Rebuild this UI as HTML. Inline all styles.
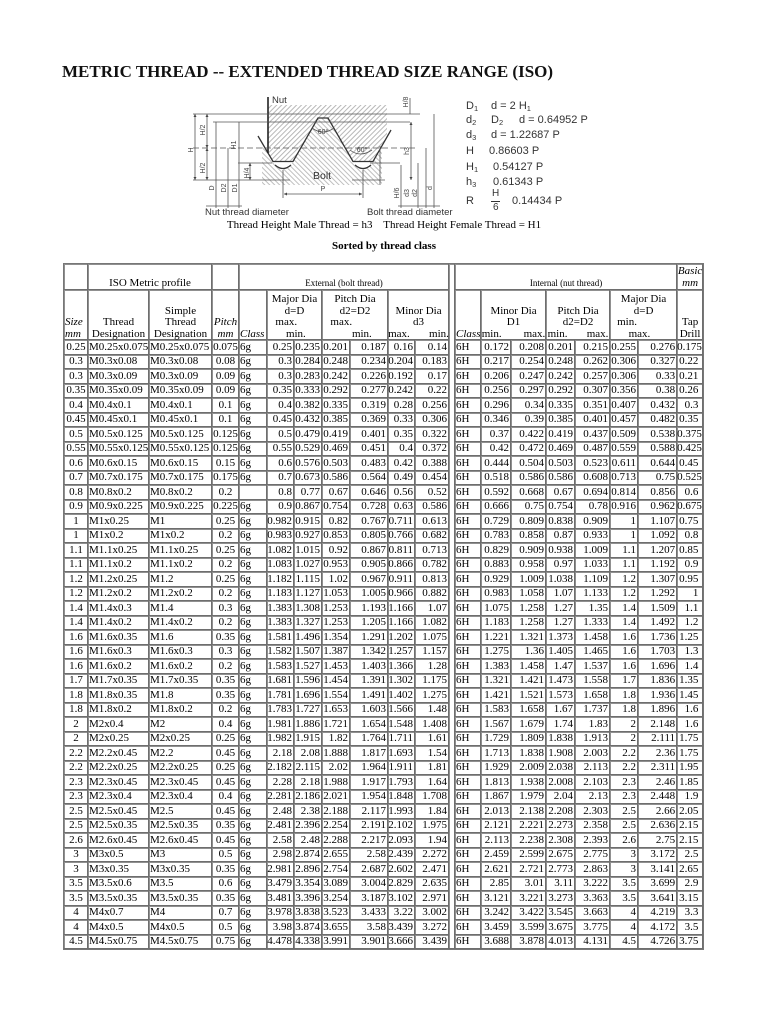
<!DOCTYPE html>
<html><head><meta charset="utf-8">
<style>
html,body{margin:0;padding:0;background:#fff}
body{width:768px;height:1024px;position:relative;overflow:hidden;font-family:"Liberation Serif",serif;color:#000}
.title{position:absolute;left:62px;top:62px;font-size:17px;font-weight:bold;line-height:20px;white-space:nowrap;color:#111}
.cap{position:absolute;left:0;width:768px;top:218px;text-align:center;font-size:11px;line-height:14px;white-space:pre}
.sorted{position:absolute;left:0;width:768px;top:239px;text-align:center;font-size:11px;font-weight:bold;line-height:14px}
.f{position:absolute;font-family:"Liberation Sans",sans-serif;font-size:11px;line-height:14px;color:#333;white-space:pre}
.f sub{font-size:7.5px;vertical-align:-2px;line-height:0}
.wrap{position:absolute;left:63px;top:263px;border:1px solid #777}
table{border-collapse:separate;border-spacing:0;table-layout:fixed;width:639px}
td{padding:0;font-size:11px;line-height:13px;white-space:nowrap;box-shadow:inset -1px -1px 0 #6e6e6e,inset 1px 1px 0 #909090;text-align:right;vertical-align:middle}
tr.h1{height:26px}
tr.h1 td{vertical-align:bottom;text-align:center;line-height:13px}
tr.h1 td.basic{vertical-align:middle;line-height:12px}
.sm{font-size:9px}
tr.h2{height:50px}
tr.h2 td{vertical-align:bottom;text-align:center;line-height:11.5px}
tr.h2 td.lft{text-align:left;padding-left:1px}
tr:nth-child(n+3){height:14.5px}
tr:nth-child(n+3) td:nth-child(1),tr:nth-child(n+3) td:nth-child(4){text-align:center}
tr:nth-child(n+3) td:nth-child(2),tr:nth-child(n+3) td:nth-child(3),tr:nth-child(n+3) td:nth-child(5),tr:nth-child(n+3) td:nth-child(12){text-align:left;text-indent:1px}
tr:nth-child(n+3) td:nth-child(n+6):not(:nth-child(12))::after{content:"";display:inline-block;width:2px}
</style></head><body>

<div class="title">METRIC THREAD -- EXTENDED THREAD SIZE RANGE (ISO)</div>

<svg width="768" height="230" style="position:absolute;left:0;top:0" font-family="Liberation Sans, sans-serif">
<defs>
<pattern id="pa" width="3.5" height="3.5" patternUnits="userSpaceOnUse" patternTransform="rotate(45)"><rect width="0.9" height="3.5" fill="#b0b0b0"/></pattern>
<pattern id="pb" width="3.5" height="3.5" patternUnits="userSpaceOnUse" patternTransform="rotate(-45)"><rect width="0.9" height="3.5" fill="#b8b8b8"/></pattern>
<marker id="ar" viewBox="0 0 6 6" refX="6" refY="3" markerWidth="4" markerHeight="4" orient="auto-start-reverse"><path d="M0,0 L6,3 L0,6z" fill="#444"/></marker>
</defs>
<polygon fill="url(#pa)" points="268,105 387,105 387,137 373,161.5 353,161.5 328,118 318,118 293,161.5 273,161.5 268,152.8"/>
<path fill="url(#pb)" d="M262,185 L262,142.4 L275,165 Q283,172 291,165 L318,118 L328,118 L355,165 Q363,172 371,165 L382,146 L382,185Z"/>
<path d="M258,136 L273,161.5 L293,161.5 L318,118 L328,118 L353,161.5 L373,161.5 L391,130" fill="none" stroke="#333" stroke-width="1.3"/>
<path d="M275,165 Q283,172 291,165 M355,165 Q363,172 371,165" fill="none" stroke="#333" stroke-width="1.2"/>
<path d="M268,97 V153" stroke="#222" stroke-width="1.6"/>
<g stroke="#555" stroke-width="0.8" fill="none">
<path d="M193,114H420 M213,122H410 M238,163H272 M193,180H290 M352,180H385 M370,163H400 M380,146V185"/>
<path d="M193,148H416" stroke-dasharray="6,3"/>
<path d="M216,122V208 M228,148V208 M239,122V208 M401,165V208 M418,163V208 M426,148V208 M434,114V208 M410,98V114"/>
<path d="M206,206H242 M398,206H440"/>
<path d="M195,114V180" marker-start="url(#ar)" marker-end="url(#ar)"/>
<path d="M207,114V148" marker-start="url(#ar)" marker-end="url(#ar)"/>
<path d="M207,148V180" marker-start="url(#ar)" marker-end="url(#ar)"/>
<path d="M250,163V180" marker-start="url(#ar)" marker-end="url(#ar)"/>
<path d="M411,122V180" marker-start="url(#ar)" marker-end="url(#ar)"/>
<path d="M283,170V198 M363,170V198"/>
<path d="M284,194H362" marker-start="url(#ar)" marker-end="url(#ar)"/>
<path d="M312,128 Q323,136 334,128 M350,150 Q360,158 372,150"/>
</g>
<g fill="#444" font-size="7" text-anchor="middle">
<text transform="translate(193,150) rotate(-90)">H</text>
<text transform="translate(205,130) rotate(-90)">H/2</text>
<text transform="translate(205,168) rotate(-90)">H/2</text>
<text transform="translate(214,188) rotate(-90)">D</text>
<text transform="translate(226,188) rotate(-90)">D2</text>
<text transform="translate(237,188) rotate(-90)">D1</text>
<text transform="translate(236,145) rotate(-90)">H1</text>
<text transform="translate(249,173) rotate(-90)">H/4</text>
<text transform="translate(408,102) rotate(-90)">H/8</text>
<text transform="translate(409,151) rotate(-90)">h3</text>
<text transform="translate(399,193) rotate(-90)">H/6</text>
<text transform="translate(409,193) rotate(-90)">d3</text>
<text transform="translate(417,193) rotate(-90)">d2</text>
<text transform="translate(432,188) rotate(-90)">d</text>
<text x="323" y="134">60°</text>
<text x="362" y="152">60°</text>
<text x="323" y="191">P</text>
</g>
<g fill="#333">
<text x="272" y="103" font-size="9.5">Nut</text>
<text x="313" y="179" font-size="10.5">Bolt</text>
<text x="205" y="215" font-size="9.5">Nut thread diameter</text>
<text x="367" y="215" font-size="9.5">Bolt thread diameter</text>
</g>
</svg>

<div class="f" style="top:99px;left:466px">D<sub>1</sub></div>
<div class="f" style="top:99px;left:491px">d = 2 H<sub>1</sub></div>
<div class="f" style="top:113px;left:466px">d<sub>2</sub></div>
<div class="f" style="top:113px;left:491px">D<sub>2</sub></div>
<div class="f" style="top:113px;left:519px">d = 0.64952 P</div>
<div class="f" style="top:128px;left:466px">d<sub>3</sub></div>
<div class="f" style="top:128px;left:491px">d = 1.22687 P</div>
<div class="f" style="top:144px;left:466px">H</div>
<div class="f" style="top:144px;left:489px">0.86603 P</div>
<div class="f" style="top:160px;left:466px">H<sub>1</sub></div>
<div class="f" style="top:160px;left:493px">0.54127 P</div>
<div class="f" style="top:175px;left:466px">h<sub>3</sub></div>
<div class="f" style="top:175px;left:493px">0.61343 P</div>
<div class="f" style="top:194px;left:466px">R</div>
<div class="f" style="top:187px;left:492px;font-size:10px">H</div>
<div style="position:absolute;left:491px;top:201px;width:9px;height:1px;background:#333"></div>
<div class="f" style="top:201px;left:493px;font-size:10px">6</div>
<div class="f" style="top:194px;left:512px">0.14434 P</div>

<div class="cap">Thread Height Male Thread = h3    Thread Height Female Thread = H1</div>
<div class="sorted">Sorted by thread class</div>

<div class="wrap">
<table>
<colgroup><col style="width:24px"><col style="width:61px"><col style="width:63px"><col style="width:27px"><col style="width:28px"><col style="width:27px"><col style="width:28px"><col style="width:28px"><col style="width:38px"><col style="width:27px"><col style="width:34px"><col style="width:6px"><col style="width:26px"><col style="width:30px"><col style="width:35px"><col style="width:29px"><col style="width:35px"><col style="width:28px"><col style="width:39px"><col style="width:26px"></colgroup>
<tbody>
<tr class="h1"><td></td><td colspan="2">ISO Metric profile</td><td></td><td colspan="7" class="sm">External (bolt thread)</td><td rowspan="44"></td><td colspan="7" class="sm">Internal (nut thread)</td><td class="basic"><i>Basic<br>mm</i></td></tr>
<tr class="h2"><td class="lft"><i>Size<br>mm</i></td><td>Thread<br>Designation</td><td>Simple<br>Thread<br>Designation</td><td><i>Pitch<br>mm</i></td><td class="lft"><i>Class</i></td><td colspan="2">Major Dia<br>d=D<br>max.&nbsp;&nbsp;&nbsp;&nbsp;&nbsp;&nbsp;<br>&nbsp;min.</td><td colspan="2">Pitch Dia<br>d2=D2<br>max.&nbsp;&nbsp;&nbsp;&nbsp;&nbsp;&nbsp;&nbsp;&nbsp;&nbsp;&nbsp;<br>&nbsp;&nbsp;&nbsp;&nbsp;&nbsp;min.</td><td colspan="2">Minor Dia<br>d3<br>max.&nbsp;&nbsp;&nbsp;&nbsp;&nbsp;&nbsp;&nbsp;min.</td><td class="lft"><i>Class</i></td><td colspan="2">Minor Dia<br>D1<br>min.&nbsp;&nbsp;&nbsp;&nbsp;&nbsp;&nbsp;&nbsp;&nbsp;max.</td><td colspan="2">Pitch Dia<br>d2=D2<br>min.&nbsp;&nbsp;&nbsp;&nbsp;&nbsp;&nbsp;&nbsp;max.</td><td colspan="2">Major Dia<br>d=D<br>min.&nbsp;&nbsp;&nbsp;&nbsp;&nbsp;&nbsp;&nbsp;&nbsp;&nbsp;&nbsp;&nbsp;&nbsp;<br>max.&nbsp;&nbsp;&nbsp;</td><td>Tap<br>Drill</td></tr>
<tr><td>0.25<td>M0.25x0.075<td>M0.25x0.075<td>0.075<td>6g<td>0.25<td>0.235<td>0.201<td>0.187<td>0.16<td>0.14<td>6H<td>0.172<td>0.208<td>0.201<td>0.215<td>0.255<td>0.276<td>0.175
<tr><td>0.3<td>M0.3x0.08<td>M0.3x0.08<td>0.08<td>6g<td>0.3<td>0.284<td>0.248<td>0.234<td>0.204<td>0.183<td>6H<td>0.217<td>0.254<td>0.248<td>0.262<td>0.306<td>0.327<td>0.22
<tr><td>0.3<td>M0.3x0.09<td>M0.3x0.09<td>0.09<td>6g<td>0.3<td>0.283<td>0.242<td>0.226<td>0.192<td>0.17<td>6H<td>0.206<td>0.247<td>0.242<td>0.257<td>0.306<td>0.33<td>0.21
<tr><td>0.35<td>M0.35x0.09<td>M0.35x0.09<td>0.09<td>6g<td>0.35<td>0.333<td>0.292<td>0.277<td>0.242<td>0.22<td>6H<td>0.256<td>0.297<td>0.292<td>0.307<td>0.356<td>0.38<td>0.26
<tr><td>0.4<td>M0.4x0.1<td>M0.4x0.1<td>0.1<td>6g<td>0.4<td>0.382<td>0.335<td>0.319<td>0.28<td>0.256<td>6H<td>0.296<td>0.34<td>0.335<td>0.351<td>0.407<td>0.432<td>0.3
<tr><td>0.45<td>M0.45x0.1<td>M0.45x0.1<td>0.1<td>6g<td>0.45<td>0.432<td>0.385<td>0.369<td>0.33<td>0.306<td>6H<td>0.346<td>0.39<td>0.385<td>0.401<td>0.457<td>0.482<td>0.35
<tr><td>0.5<td>M0.5x0.125<td>M0.5x0.125<td>0.125<td>6g<td>0.5<td>0.479<td>0.419<td>0.401<td>0.35<td>0.322<td>6H<td>0.37<td>0.422<td>0.419<td>0.437<td>0.509<td>0.538<td>0.375
<tr><td>0.55<td>M0.55x0.125<td>M0.55x0.125<td>0.125<td>6g<td>0.55<td>0.529<td>0.469<td>0.451<td>0.4<td>0.372<td>6H<td>0.42<td>0.472<td>0.469<td>0.487<td>0.559<td>0.588<td>0.425
<tr><td>0.6<td>M0.6x0.15<td>M0.6x0.15<td>0.15<td>6g<td>0.6<td>0.576<td>0.503<td>0.483<td>0.42<td>0.388<td>6H<td>0.444<td>0.504<td>0.503<td>0.523<td>0.611<td>0.644<td>0.45
<tr><td>0.7<td>M0.7x0.175<td>M0.7x0.175<td>0.175<td>6g<td>0.7<td>0.673<td>0.586<td>0.564<td>0.49<td>0.454<td>6H<td>0.518<td>0.586<td>0.586<td>0.608<td>0.713<td>0.75<td>0.525
<tr><td>0.8<td>M0.8x0.2<td>M0.8x0.2<td>0.2<td><td>0.8<td>0.77<td>0.67<td>0.646<td>0.56<td>0.52<td>6H<td>0.592<td>0.668<td>0.67<td>0.694<td>0.814<td>0.856<td>0.6
<tr><td>0.9<td>M0.9x0.225<td>M0.9x0.225<td>0.225<td>6g<td>0.9<td>0.867<td>0.754<td>0.728<td>0.63<td>0.586<td>6H<td>0.666<td>0.75<td>0.754<td>0.78<td>0.916<td>0.962<td>0.675
<tr><td>1<td>M1x0.25<td>M1<td>0.25<td>6g<td>0.982<td>0.915<td>0.82<td>0.767<td>0.711<td>0.613<td>6H<td>0.729<td>0.809<td>0.838<td>0.909<td>1<td>1.107<td>0.75
<tr><td>1<td>M1x0.2<td>M1x0.2<td>0.2<td>6g<td>0.983<td>0.927<td>0.853<td>0.805<td>0.766<td>0.682<td>6H<td>0.783<td>0.858<td>0.87<td>0.933<td>1<td>1.092<td>0.8
<tr><td>1.1<td>M1.1x0.25<td>M1.1x0.25<td>0.25<td>6g<td>1.082<td>1.015<td>0.92<td>0.867<td>0.811<td>0.713<td>6H<td>0.829<td>0.909<td>0.938<td>1.009<td>1.1<td>1.207<td>0.85
<tr><td>1.1<td>M1.1x0.2<td>M1.1x0.2<td>0.2<td>6g<td>1.083<td>1.027<td>0.953<td>0.905<td>0.866<td>0.782<td>6H<td>0.883<td>0.958<td>0.97<td>1.033<td>1.1<td>1.192<td>0.9
<tr><td>1.2<td>M1.2x0.25<td>M1.2<td>0.25<td>6g<td>1.182<td>1.115<td>1.02<td>0.967<td>0.911<td>0.813<td>6H<td>0.929<td>1.009<td>1.038<td>1.109<td>1.2<td>1.307<td>0.95
<tr><td>1.2<td>M1.2x0.2<td>M1.2x0.2<td>0.2<td>6g<td>1.183<td>1.127<td>1.053<td>1.005<td>0.966<td>0.882<td>6H<td>0.983<td>1.058<td>1.07<td>1.133<td>1.2<td>1.292<td>1
<tr><td>1.4<td>M1.4x0.3<td>M1.4<td>0.3<td>6g<td>1.383<td>1.308<td>1.253<td>1.193<td>1.166<td>1.07<td>6H<td>1.075<td>1.258<td>1.27<td>1.35<td>1.4<td>1.509<td>1.1
<tr><td>1.4<td>M1.4x0.2<td>M1.4x0.2<td>0.2<td>6g<td>1.383<td>1.327<td>1.253<td>1.205<td>1.166<td>1.082<td>6H<td>1.183<td>1.258<td>1.27<td>1.333<td>1.4<td>1.492<td>1.2
<tr><td>1.6<td>M1.6x0.35<td>M1.6<td>0.35<td>6g<td>1.581<td>1.496<td>1.354<td>1.291<td>1.202<td>1.075<td>6H<td>1.221<td>1.321<td>1.373<td>1.458<td>1.6<td>1.736<td>1.25
<tr><td>1.6<td>M1.6x0.3<td>M1.6x0.3<td>0.3<td>6g<td>1.582<td>1.507<td>1.387<td>1.342<td>1.257<td>1.157<td>6H<td>1.275<td>1.36<td>1.405<td>1.465<td>1.6<td>1.703<td>1.3
<tr><td>1.6<td>M1.6x0.2<td>M1.6x0.2<td>0.2<td>6g<td>1.583<td>1.527<td>1.453<td>1.403<td>1.366<td>1.28<td>6H<td>1.383<td>1.458<td>1.47<td>1.537<td>1.6<td>1.696<td>1.4
<tr><td>1.7<td>M1.7x0.35<td>M1.7x0.35<td>0.35<td>6g<td>1.681<td>1.596<td>1.454<td>1.391<td>1.302<td>1.175<td>6H<td>1.321<td>1.421<td>1.473<td>1.558<td>1.7<td>1.836<td>1.35
<tr><td>1.8<td>M1.8x0.35<td>M1.8<td>0.35<td>6g<td>1.781<td>1.696<td>1.554<td>1.491<td>1.402<td>1.275<td>6H<td>1.421<td>1.521<td>1.573<td>1.658<td>1.8<td>1.936<td>1.45
<tr><td>1.8<td>M1.8x0.2<td>M1.8x0.2<td>0.2<td>6g<td>1.783<td>1.727<td>1.653<td>1.603<td>1.566<td>1.48<td>6H<td>1.583<td>1.658<td>1.67<td>1.737<td>1.8<td>1.896<td>1.6
<tr><td>2<td>M2x0.4<td>M2<td>0.4<td>6g<td>1.981<td>1.886<td>1.721<td>1.654<td>1.548<td>1.408<td>6H<td>1.567<td>1.679<td>1.74<td>1.83<td>2<td>2.148<td>1.6
<tr><td>2<td>M2x0.25<td>M2x0.25<td>0.25<td>6g<td>1.982<td>1.915<td>1.82<td>1.764<td>1.711<td>1.61<td>6H<td>1.729<td>1.809<td>1.838<td>1.913<td>2<td>2.111<td>1.75
<tr><td>2.2<td>M2.2x0.45<td>M2.2<td>0.45<td>6g<td>2.18<td>2.08<td>1.888<td>1.817<td>1.693<td>1.54<td>6H<td>1.713<td>1.838<td>1.908<td>2.003<td>2.2<td>2.36<td>1.75
<tr><td>2.2<td>M2.2x0.25<td>M2.2x0.25<td>0.25<td>6g<td>2.182<td>2.115<td>2.02<td>1.964<td>1.911<td>1.81<td>6H<td>1.929<td>2.009<td>2.038<td>2.113<td>2.2<td>2.311<td>1.95
<tr><td>2.3<td>M2.3x0.45<td>M2.3x0.45<td>0.45<td>6g<td>2.28<td>2.18<td>1.988<td>1.917<td>1.793<td>1.64<td>6H<td>1.813<td>1.938<td>2.008<td>2.103<td>2.3<td>2.46<td>1.85
<tr><td>2.3<td>M2.3x0.4<td>M2.3x0.4<td>0.4<td>6g<td>2.281<td>2.186<td>2.021<td>1.954<td>1.848<td>1.708<td>6H<td>1.867<td>1.979<td>2.04<td>2.13<td>2.3<td>2.448<td>1.9
<tr><td>2.5<td>M2.5x0.45<td>M2.5<td>0.45<td>6g<td>2.48<td>2.38<td>2.188<td>2.117<td>1.993<td>1.84<td>6H<td>2.013<td>2.138<td>2.208<td>2.303<td>2.5<td>2.66<td>2.05
<tr><td>2.5<td>M2.5x0.35<td>M2.5x0.35<td>0.35<td>6g<td>2.481<td>2.396<td>2.254<td>2.191<td>2.102<td>1.975<td>6H<td>2.121<td>2.221<td>2.273<td>2.358<td>2.5<td>2.636<td>2.15
<tr><td>2.6<td>M2.6x0.45<td>M2.6x0.45<td>0.45<td>6g<td>2.58<td>2.48<td>2.288<td>2.217<td>2.093<td>1.94<td>6H<td>2.113<td>2.238<td>2.308<td>2.393<td>2.6<td>2.75<td>2.15
<tr><td>3<td>M3x0.5<td>M3<td>0.5<td>6g<td>2.98<td>2.874<td>2.655<td>2.58<td>2.439<td>2.272<td>6H<td>2.459<td>2.599<td>2.675<td>2.775<td>3<td>3.172<td>2.5
<tr><td>3<td>M3x0.35<td>M3x0.35<td>0.35<td>6g<td>2.981<td>2.896<td>2.754<td>2.687<td>2.602<td>2.471<td>6H<td>2.621<td>2.721<td>2.773<td>2.863<td>3<td>3.141<td>2.65
<tr><td>3.5<td>M3.5x0.6<td>M3.5<td>0.6<td>6g<td>3.479<td>3.354<td>3.089<td>3.004<td>2.829<td>2.635<td>6H<td>2.85<td>3.01<td>3.11<td>3.222<td>3.5<td>3.699<td>2.9
<tr><td>3.5<td>M3.5x0.35<td>M3.5x0.35<td>0.35<td>6g<td>3.481<td>3.396<td>3.254<td>3.187<td>3.102<td>2.971<td>6H<td>3.121<td>3.221<td>3.273<td>3.363<td>3.5<td>3.641<td>3.15
<tr><td>4<td>M4x0.7<td>M4<td>0.7<td>6g<td>3.978<td>3.838<td>3.523<td>3.433<td>3.22<td>3.002<td>6H<td>3.242<td>3.422<td>3.545<td>3.663<td>4<td>4.219<td>3.3
<tr><td>4<td>M4x0.5<td>M4x0.5<td>0.5<td>6g<td>3.98<td>3.874<td>3.655<td>3.58<td>3.439<td>3.272<td>6H<td>3.459<td>3.599<td>3.675<td>3.775<td>4<td>4.172<td>3.5
<tr><td>4.5<td>M4.5x0.75<td>M4.5x0.75<td>0.75<td>6g<td>4.478<td>4.338<td>3.991<td>3.901<td>3.666<td>3.439<td>6H<td>3.688<td>3.878<td>4.013<td>4.131<td>4.5<td>4.726<td>3.75
</tbody>
</table>
</div>
</body></html>
